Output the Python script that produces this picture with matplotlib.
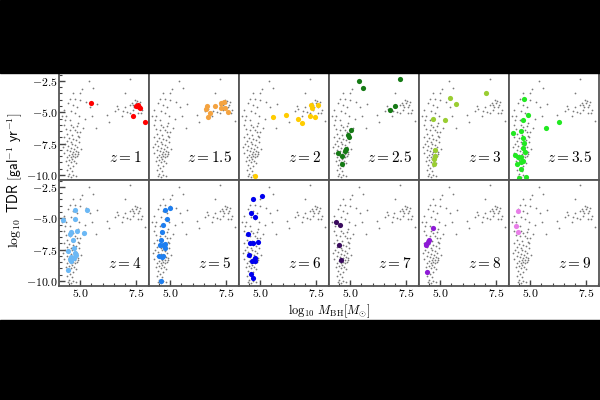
import numpy as np
import matplotlib
matplotlib.use("Agg")
import matplotlib.pyplot as plt
from matplotlib.patches import Rectangle
from matplotlib.ticker import MultipleLocator, FuncFormatter

plt.rcParams['mathtext.fontset'] = 'cm'
plt.rcParams['font.family'] = 'serif'
plt.rcParams['font.serif'] = ['DejaVu Serif']

# background population (same in every panel)
bg_x = [5.40, 7.22, 5.06, 5.55, 4.69, 7.01, 4.54, 4.76, 4.98, 4.44, 4.69, 5.73, 6.63, 6.70,
        6.97, 7.30, 7.74, 7.33, 7.52, 7.60, 7.22, 6.18, 6.85, 7.88, 6.29, 5.70, 5.21, 5.54,
        4.76, 4.39, 4.54, 4.32, 4.17, 4.91, 5.14, 4.69,
        7.45, 7.48, 7.55, 7.40, 7.65, 7.10, 6.90, 7.58, 7.70, 5.00, 5.25, 4.85, 4.60, 4.95,
        4.30, 5.45, 6.55, 7.20, 7.35,
        4.35, 4.55, 4.75, 4.85, 4.40, 4.62, 4.90, 4.28, 4.50, 4.70, 4.80, 4.40, 4.58, 4.95,
        4.33, 4.65, 4.78, 4.48, 4.88, 4.25, 4.60, 4.72, 4.40, 4.82, 4.55, 4.68, 4.90, 4.30,
        4.62, 4.75, 4.50, 4.70, 4.85, 4.58, 4.42, 4.78, 4.65, 4.52, 4.72, 4.35, 4.60, 4.80,
        4.45, 4.68, 4.55, 4.40, 4.62, 4.50, 4.70, 4.58, 4.80, 4.45,
        4.30, 4.60, 4.85, 5.00, 4.95, 5.05, 4.92]
bg_y = [-2.50, -2.37, -3.17, -3.09, -3.44, -3.44, -3.98, -3.98, -4.06, -4.25, -4.39, -4.31, -4.47, -4.74,
        -4.58, -4.25, -4.79, -4.79, -4.12, -4.39, -5.06, -5.19, -5.32, -5.70, -5.77, -6.23, -5.50, -5.32,
        -5.06, -5.32, -5.59, -5.59, -5.32, -5.83, -6.23, -6.18,
        -4.00, -4.30, -4.55, -4.60, -4.20, -5.00, -4.90, -5.05, -5.05, -3.50, -4.20, -4.60, -4.90, -5.30,
        -4.80, -4.60, -4.90, -4.40, -4.45,
        -6.30, -6.40, -6.45, -6.60, -6.70, -6.80, -6.90, -7.00, -7.05, -7.10, -7.20, -7.30, -7.40, -7.35,
        -7.50, -7.55, -7.60, -7.70, -7.75, -7.80, -7.85, -7.95, -8.00, -8.05, -8.10, -8.15, -8.20, -8.25,
        -8.30, -8.30, -8.40, -8.45, -8.50, -8.55, -8.60, -8.60, -8.70, -8.80, -8.85, -8.90, -9.00, -9.05,
        -9.20, -9.30, -9.45, -9.60, -9.70, -9.90, -10.00, -10.15, -10.10, -10.05,
        -6.00, -6.00, -6.10, -6.60, -7.00, -7.90, -8.30]

redshifts = ['1', '1.5', '2', '2.5', '3', '3.5', '4', '5', '6', '7', '8', '9']
colors = ['#ff0000', '#f4a340', '#ffcc00', '#157a15', '#9acd32', '#22e822',
          '#6bb8f5', '#1f7fef', '#0000ee', '#3a0b5e', '#8e1ad6', '#e87ee8']

sel_x = [
    [5.47, 7.48, 7.55, 7.62, 7.68, 7.33, 7.90],
    [6.63, 6.58, 6.98, 7.27, 7.38, 7.26, 7.45, 6.79, 6.69, 7.57],
    [5.58, 6.15, 6.70, 6.85, 7.22, 7.42, 7.27, 7.30, 7.57, 4.76],
    [5.39, 5.55, 7.22, 7.00, 6.78, 5.03, 4.92, 4.93, 4.80, 4.75, 4.46, 4.63, 4.63],
    [7.03, 5.43, 5.70, 4.69, 5.21, 4.76, 4.79, 4.72, 4.73],
    [4.73, 4.91, 4.70, 4.24, 4.61, 4.69, 4.73, 4.69, 4.76, 4.31, 4.46, 4.61, 4.66, 4.58,
     4.42, 4.58, 4.51, 4.81, 5.70, 6.28],
    [4.76, 5.29, 4.76, 4.24, 4.88, 5.18, 4.61, 4.54, 4.69, 4.47, 4.73, 4.79, 4.83, 4.61,
     4.54, 4.73, 4.47, 4.61],
    [4.99, 4.79, 4.86, 4.69, 4.64, 4.58, 4.54, 4.66, 4.79, 4.76, 4.49, 4.64, 4.70, 4.61],
    [5.09, 4.70, 4.58, 4.75, 4.48, 4.55, 4.70, 4.92, 4.51, 4.75, 4.63, 4.78, 4.60, 4.68],
    [4.39, 4.54, 4.49, 4.61],
    [4.69, 4.51, 4.44, 4.39, 4.36, 4.42],
    [4.47, 4.36, 4.47],
]
sel_y = [
    [-4.25, -4.50, -4.45, -4.60, -4.70, -5.30, -5.75],
    [-4.47, -4.74, -4.50, -4.25, -4.17, -4.66, -4.66, -5.06, -5.38, -5.00],
    [-5.38, -5.19, -5.50, -5.85, -5.32, -5.38, -4.39, -4.66, -4.39, -10.10],
    [-2.52, -3.08, -2.37, -4.52, -4.82, -6.40, -6.85, -6.98, -7.90, -8.10, -8.26, -8.45, -9.10],
    [-3.44, -3.90, -4.34, -5.55, -5.59, -8.00, -8.50, -9.15, -8.70],
    [-3.98, -5.24, -5.59, -6.66, -6.53, -7.06, -7.47, -7.87, -8.20, -8.40, -8.53, -8.53, -8.87, -8.95,
     -9.16, -9.50, -10.25, -10.17, -6.28, -5.80],
    [-4.38, -4.38, -5.08, -5.16, -6.00, -6.20, -6.12, -6.25, -6.77, -7.60, -7.35, -7.75, -7.94, -8.07,
     -8.28, -8.20, -9.12, -8.38],
    [-4.17, -4.38, -5.08, -5.55, -6.07, -6.77, -7.16, -7.10, -7.35, -7.08, -8.00, -8.07, -8.00, -10.00],
    [-3.26, -3.44, -4.56, -4.87, -6.25, -6.98, -6.98, -6.90, -7.90, -8.20, -8.38, -8.38, -9.45, -9.77],
    [-5.29, -5.55, -7.12, -8.30],
    [-5.78, -6.77, -6.90, -7.16, -7.03, -9.30],
    [-4.43, -5.60, -6.12],
]

fig = plt.figure(figsize=(6, 4), dpi=100)
gs = fig.add_gridspec(2, 6, left=0.098, right=0.998, bottom=0.285, top=0.815,
                      hspace=0, wspace=0)

bold = FuncFormatter(lambda v, p: r'$\mathbf{%.1f}$' % v)

for i in range(12):
    r, c = divmod(i, 6)
    ax = fig.add_subplot(gs[r, c])
    ax.scatter(bg_x, bg_y, s=1.6, color='#7a7a7a', lw=0)
    ax.scatter(sel_x[i], sel_y[i], s=14, color=colors[i], lw=0, zorder=3)
    ax.set_xlim(4.05, 8.05)
    ax.set_ylim(-10.4, -1.95)
    ax.xaxis.set_major_locator(MultipleLocator(2.5))
    ax.xaxis.set_minor_locator(MultipleLocator(0.5))
    ax.yaxis.set_major_locator(MultipleLocator(2.5))
    ax.yaxis.set_minor_locator(MultipleLocator(0.5))
    ax.xaxis.set_major_formatter(bold)
    ax.yaxis.set_major_formatter(bold)
    ax.tick_params(which='both', direction='in', top=False, right=False,
                   left=(c == 0), bottom=(r == 1),
                   labelleft=(c == 0), labelbottom=(r == 1),
                   labelsize=8.5, color='#444444', pad=1)
    ax.tick_params(which='major', length=4, width=1)
    ax.tick_params(which='minor', length=2, width=0.8)
    for s in ax.spines.values():
        s.set_color('#555555')
        s.set_linewidth(1.3)
    if r == 0:
        ax.spines['top'].set_visible(False)
    ax.text(0.92, 0.21, r'$z = %s$' % redshifts[i], transform=ax.transAxes,
            ha='right', va='center', fontsize=11)

fig.text(0.025, 0.55, r'$\log_{10}\ \mathsf{TDR}\ [\mathsf{gal}^{-1}\ \mathsf{yr}^{-1}]$',
         rotation=90, ha='center', va='center', fontsize=10)
fig.text(0.548, 0.201, r'$\log_{10}\,M_{\rm BH}[M_{\odot}]$', ha='center', va='bottom',
         fontsize=9)

# letterbox bars
fig.patches.append(Rectangle((0, 0.8175), 1, 0.1825, transform=fig.transFigure,
                             color='black', zorder=10))
fig.patches.append(Rectangle((0, 0), 1, 0.2, transform=fig.transFigure,
                             color='black', zorder=10))

fig.savefig('out.png', dpi=100)
